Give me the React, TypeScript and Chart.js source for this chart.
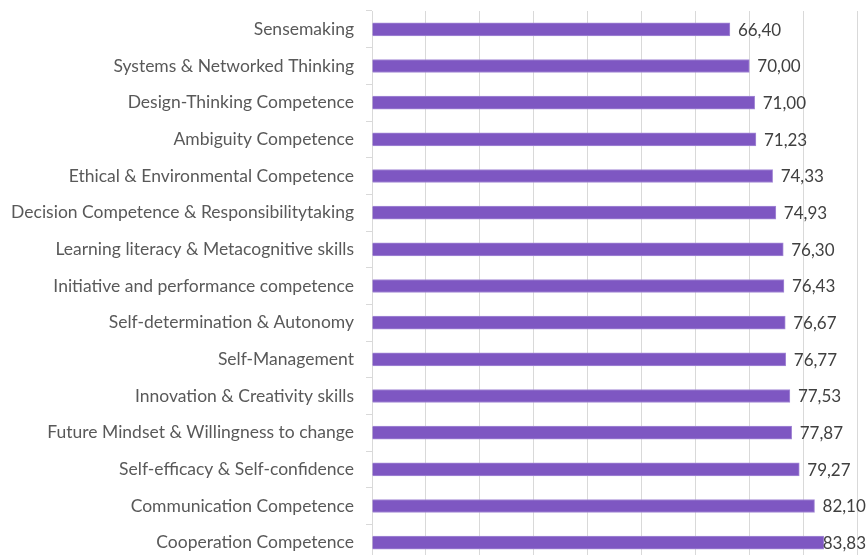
import React, { useEffect, useRef } from "react";
import { Chart, registerables } from "chart.js";

Chart.register(...registerables);

const categories = [
  "Sensemaking",
  "Systems & Networked Thinking",
  "Design-Thinking Competence",
  "Ambiguity Competence",
  "Ethical & Environmental Competence",
  "Decision Competence & Responsibilitytaking",
  "Learning literacy & Metacognitive skills",
  "Initiative and performance competence",
  "Self-determination & Autonomy",
  "Self-Management",
  "Innovation & Creativity skills",
  "Future Mindset & Willingness to change",
  "Self-efficacy & Self-confidence",
  "Communication Competence",
  "Cooperation Competence",
];

const values = [
  66.4, 70.0, 71.0, 71.23, 74.33, 74.93, 76.3, 76.43, 76.67, 76.77, 77.53,
  77.87, 79.27, 82.1, 83.83,
];

const FONT = "Lato, 'Open Sans', sans-serif";
const VISIBLE_WIDTH = 867;

const valueLabels = {
  id: "valueLabels",
  afterDatasetsDraw(chart: any) {
    const ctx = chart.ctx;
    const meta = chart.getDatasetMeta(0);
    ctx.save();
    ctx.font = `17px ${FONT}`;
    ctx.fillStyle = "#404040";
    ctx.textBaseline = "middle";
    ctx.textAlign = "left";
    meta.data.forEach((bar: any, i: number) => {
      const txt = values[i].toFixed(2).replace(".", ",");
      const w = ctx.measureText(txt).width;
      let x = bar.x + 8;
      if (x + w > VISIBLE_WIDTH - 1) x = VISIBLE_WIDTH - 1 - w;
      ctx.fillText(txt, x, bar.y + 1);
    });
    ctx.restore();
  },
};

export default function App() {
  const ref = useRef<HTMLCanvasElement | null>(null);
  useEffect(() => {
    if (!ref.current) return;
    const chart = new Chart(ref.current, {
      type: "bar",
      data: {
        labels: categories,
        datasets: [
          {
            data: values,
            backgroundColor: "#7e57c2",
            borderColor: "#a58ad6",
            borderWidth: 1,
            barThickness: 13,
          },
        ],
      },
      options: {
        indexAxis: "y",
        responsive: false,
        animation: false,
        devicePixelRatio: 1,
        layout: { padding: { top: 11, bottom: 14, left: 0, right: 0 } },
        plugins: {
          legend: { display: false },
          tooltip: { enabled: false },
        },
        scales: {
          x: {
            min: 0,
            max: 100,
            ticks: { display: false, stepSize: 10 },
            grid: { color: "#d9d9d9", drawTicks: false, lineWidth: 1 },
            border: { display: false },
            afterFit: (s: any) => {
              s.height = 0;
              s.paddingLeft = 0;
              s.paddingRight = 0;
            },
          },
          y: {
            ticks: {
              color: "#595959",
              font: { family: FONT, size: 17.5 },
              padding: 12,
            },
            grid: {
              drawOnChartArea: false,
              drawTicks: true,
              tickLength: 6,
              color: "#d9d9d9",
              offset: true,
            },
            border: { display: true, color: "#d9d9d9" },
            afterFit: (s: any) => {
              s.width = 372;
              s.paddingTop = 0;
              s.paddingBottom = 0;
            },
          },
        },
      },
      plugins: [valueLabels],
    });
    return () => chart.destroy();
  }, []);
  return (
    <div
      style={{
        position: "fixed",
        left: 0,
        top: 0,
        width: 867,
        height: 555,
        overflow: "hidden",
        background: "#fff",
      }}
    >
      <canvas ref={ref} width={911} height={575} style={{ display: "block" }} />
    </div>
  );
}
